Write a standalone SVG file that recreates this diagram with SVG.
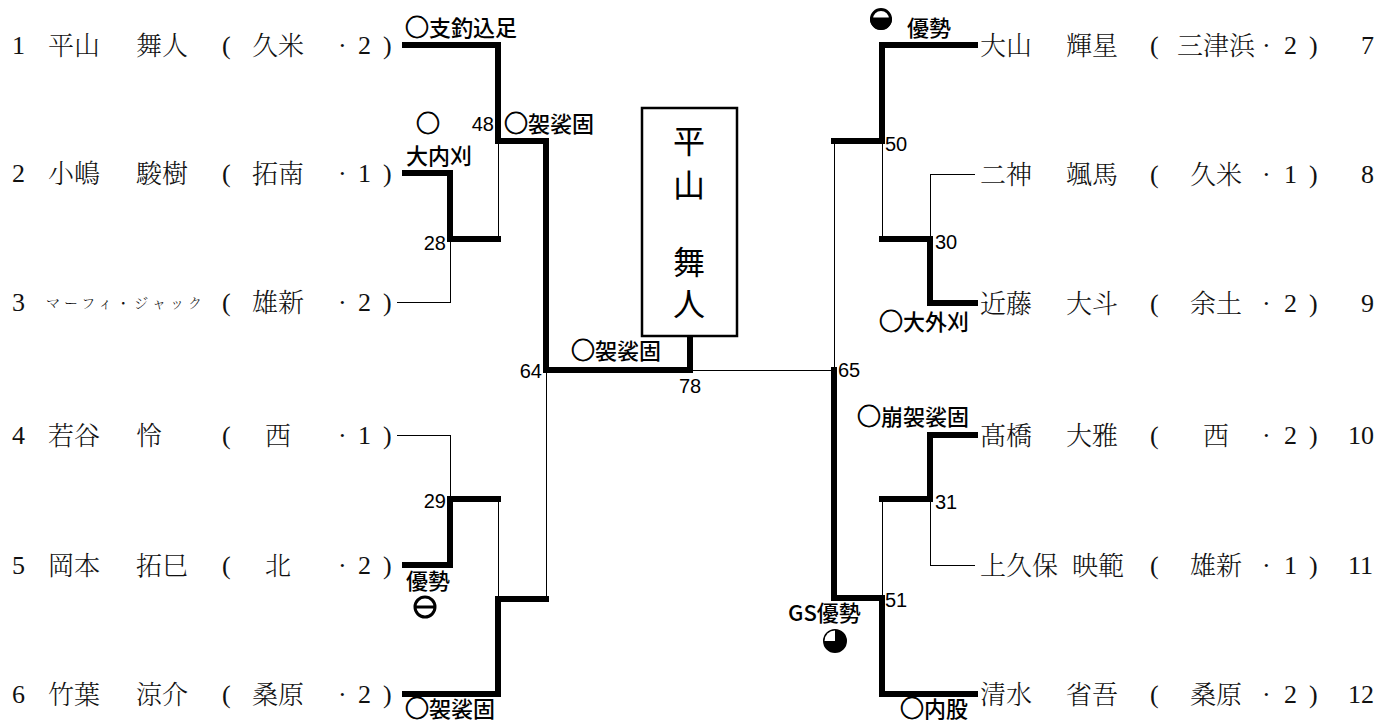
<svg xmlns="http://www.w3.org/2000/svg" width="1384" height="724" viewBox="0 0 1384 724">
<style>
.nm{font-family:"Noto Serif CJK JP","Noto Sans CJK JP",serif;font-size:26px;font-weight:300;fill:#111}
.dg{font-family:"Liberation Serif",serif;font-size:26px;fill:#111}
.lb{font-family:"Noto Sans CJK JP",sans-serif;font-size:22px;font-weight:500;fill:#000}
.ci{font-size:24px;stroke:#000;stroke-width:0.8}
.no{font-family:"Liberation Sans",sans-serif;font-size:20px;fill:#000}
.bx{font-family:"Noto Sans CJK JP",sans-serif;font-size:32px;fill:#000}
.thick{fill:none;stroke:#000;stroke-width:6;stroke-linejoin:miter;stroke-linecap:square}
.thin{fill:none;stroke:#000;stroke-width:1;shape-rendering:crispEdges}
</style>
<rect width="1384" height="724" fill="#fff"/>
<g id="connectors">
<path class="thin" d="M397,302 H450 V239"/>
<path class="thin" d="M498,239 V141"/>
<path class="thin" d="M397,435 H450 V499"/>
<path class="thin" d="M498,499 V599"/>
<path class="thin" d="M546,599 V370"/>
<path class="thin" d="M690,370 H834"/>
<path class="thin" d="M975,174 H930 V239"/>
<path class="thin" d="M882,239 V141"/>
<path class="thin" d="M975,565 H930 V499"/>
<path class="thin" d="M882,499 V598"/>
<path class="thin" d="M834,141 V370"/>
<path class="thick" d="M405,45 H498 V141 H546 V370 H690 V338"/>
<path class="thick" d="M405,173 H450 V239 H498"/>
<path class="thick" d="M405,565 H450 V499 H498"/>
<path class="thick" d="M405,694 H498 V599 H546"/>
<path class="thick" d="M975,45 H882 V141 H834"/>
<path class="thick" d="M975,303 H930 V239 H882"/>
<path class="thick" d="M975,435 H930 V499 H882"/>
<path class="thick" d="M975,694 H882 V598 H834 V370"/>
</g>
<g id="p1"><text class="dg" x="12" y="54">1</text><text class="nm" x="48" y="55">平山</text><text class="nm" x="136" y="55">舞人</text><text class="dg" x="222" y="54">(</text><text class="nm" x="252" y="55">久米</text><text class="dg" x="338" y="54">·</text><text class="dg" x="358" y="54">2</text><text class="dg" x="383" y="54">)</text></g>
<g id="p2"><text class="dg" x="12" y="182">2</text><text class="nm" x="48" y="183">小嶋</text><text class="nm" x="136" y="183">駿樹</text><text class="dg" x="222" y="182">(</text><text class="nm" x="252" y="183">拓南</text><text class="dg" x="338" y="182">·</text><text class="dg" x="358" y="182">1</text><text class="dg" x="383" y="182">)</text></g>
<g id="p3"><text class="dg" x="12" y="311">3</text><text class="nm" style="font-size:14px" x="46" y="308" textLength="156" lengthAdjust="spacing">マーフィ・ジャック</text><text class="dg" x="222" y="311">(</text><text class="nm" x="252" y="312">雄新</text><text class="dg" x="338" y="311">·</text><text class="dg" x="358" y="311">2</text><text class="dg" x="383" y="311">)</text></g>
<g id="p4"><text class="dg" x="12" y="444">4</text><text class="nm" x="48" y="445">若谷</text><text class="nm" x="136" y="445">怜</text><text class="dg" x="222" y="444">(</text><text class="nm" x="265" y="445">西</text><text class="dg" x="338" y="444">·</text><text class="dg" x="358" y="444">1</text><text class="dg" x="383" y="444">)</text></g>
<g id="p5"><text class="dg" x="12" y="574">5</text><text class="nm" x="48" y="575">岡本</text><text class="nm" x="136" y="575">拓巳</text><text class="dg" x="222" y="574">(</text><text class="nm" x="265" y="575">北</text><text class="dg" x="338" y="574">·</text><text class="dg" x="358" y="574">2</text><text class="dg" x="383" y="574">)</text></g>
<g id="p6"><text class="dg" x="12" y="703">6</text><text class="nm" x="48" y="704">竹葉</text><text class="nm" x="136" y="704">涼介</text><text class="dg" x="222" y="703">(</text><text class="nm" x="252" y="704">桑原</text><text class="dg" x="338" y="703">·</text><text class="dg" x="358" y="703">2</text><text class="dg" x="383" y="703">)</text></g>
<g id="p7"><text class="nm" x="980" y="55">大山</text><text class="nm" x="1066" y="55">輝星</text><text class="dg" x="1150" y="54">(</text><text class="nm" x="1177" y="55">三津浜</text><text class="dg" x="1262" y="54">·</text><text class="dg" x="1284" y="54">2</text><text class="dg" x="1309" y="54">)</text><text class="dg" x="1361" y="54">7</text></g>
<g id="p8"><text class="nm" x="980" y="184">二神</text><text class="nm" x="1066" y="184">颯馬</text><text class="dg" x="1150" y="183">(</text><text class="nm" x="1190" y="184">久米</text><text class="dg" x="1262" y="183">·</text><text class="dg" x="1284" y="183">1</text><text class="dg" x="1309" y="183">)</text><text class="dg" x="1361" y="183">8</text></g>
<g id="p9"><text class="nm" x="980" y="313">近藤</text><text class="nm" x="1066" y="313">大斗</text><text class="dg" x="1150" y="312">(</text><text class="nm" x="1190" y="313">余土</text><text class="dg" x="1262" y="312">·</text><text class="dg" x="1284" y="312">2</text><text class="dg" x="1309" y="312">)</text><text class="dg" x="1361" y="312">9</text></g>
<g id="p10"><text class="nm" x="980" y="445">髙橋</text><text class="nm" x="1066" y="445">大雅</text><text class="dg" x="1150" y="444">(</text><text class="nm" x="1203" y="445">西</text><text class="dg" x="1262" y="444">·</text><text class="dg" x="1284" y="444">2</text><text class="dg" x="1309" y="444">)</text><text class="dg" x="1348" y="444">10</text></g>
<g id="p11"><text class="nm" x="980" y="575">上久保</text><text class="nm" x="1072" y="575">映範</text><text class="dg" x="1150" y="574">(</text><text class="nm" x="1190" y="575">雄新</text><text class="dg" x="1262" y="574">·</text><text class="dg" x="1284" y="574">1</text><text class="dg" x="1309" y="574">)</text><text class="dg" x="1348" y="574">11</text></g>
<g id="p12"><text class="nm" x="980" y="704">清水</text><text class="nm" x="1066" y="704">省吾</text><text class="dg" x="1150" y="703">(</text><text class="nm" x="1190" y="704">桑原</text><text class="dg" x="1262" y="703">·</text><text class="dg" x="1284" y="703">2</text><text class="dg" x="1309" y="703">)</text><text class="dg" x="1348" y="703">12</text></g>
<g id="winner">
<rect x="642" y="108" width="95" height="228" fill="#fff" stroke="#000" stroke-width="2.5"/>
<text class="bx" x="689" y="153" text-anchor="middle">平</text>
<text class="bx" x="689" y="197" text-anchor="middle">山</text>
<text class="bx" x="689" y="274" text-anchor="middle">舞</text>
<text class="bx" x="689" y="316" text-anchor="middle">人</text>
</g>
<g id="labels">
<text class="lb" x="405" y="36"><tspan class="ci">○</tspan>支釣込足</text>
<text class="lb" x="416" y="132"><tspan class="ci">○</tspan></text>
<text class="lb" x="406" y="164">大内刈</text>
<text class="no" x="494" y="131" text-anchor="end">48</text>
<text class="lb" x="504" y="132"><tspan class="ci">○</tspan>袈裟固</text>
<text class="no" x="446" y="250" text-anchor="end">28</text>
<text class="no" x="446" y="508" text-anchor="end">29</text>
<text class="lb" x="406" y="589">優勢</text>
<text class="lb" x="405" y="717"><tspan class="ci">○</tspan>袈裟固</text>
<text class="no" x="542" y="378" text-anchor="end">64</text>
<text class="lb" x="571" y="359"><tspan class="ci">○</tspan>袈裟固</text>
<text class="no" x="679" y="393">78</text>
<text class="no" x="838" y="377">65</text>
<text class="no" x="885" y="151">50</text>
<text class="no" x="935" y="249">30</text>
<text class="no" x="935" y="509">31</text>
<text class="no" x="885" y="607">51</text>
<text class="lb" x="907" y="36">優勢</text>
<text class="lb" x="879" y="330"><tspan class="ci">○</tspan>大外刈</text>
<text class="lb" x="857" y="425"><tspan class="ci">○</tspan>崩袈裟固</text>
<text class="lb" x="788" y="621">GS優勢</text>
<text class="lb" x="900" y="717"><tspan class="ci">○</tspan>内股</text>
</g>
<g id="marks" stroke="#000" stroke-width="3">
<circle cx="425" cy="607" r="10" fill="none"/>
<line x1="415" y1="607" x2="435" y2="607"/>
<circle cx="881" cy="19" r="9.5" fill="#fff"/>
<path d="M871.5,19 A9.5,9.5 0 0 0 890.5,19 Z" fill="#000"/>
<circle cx="835" cy="641" r="10.5" fill="#000"/>
<path d="M835,641 V630.5 A10.5,10.5 0 0 0 824.5,641 Z" fill="#fff" stroke="none"/>
</g>
</svg>
